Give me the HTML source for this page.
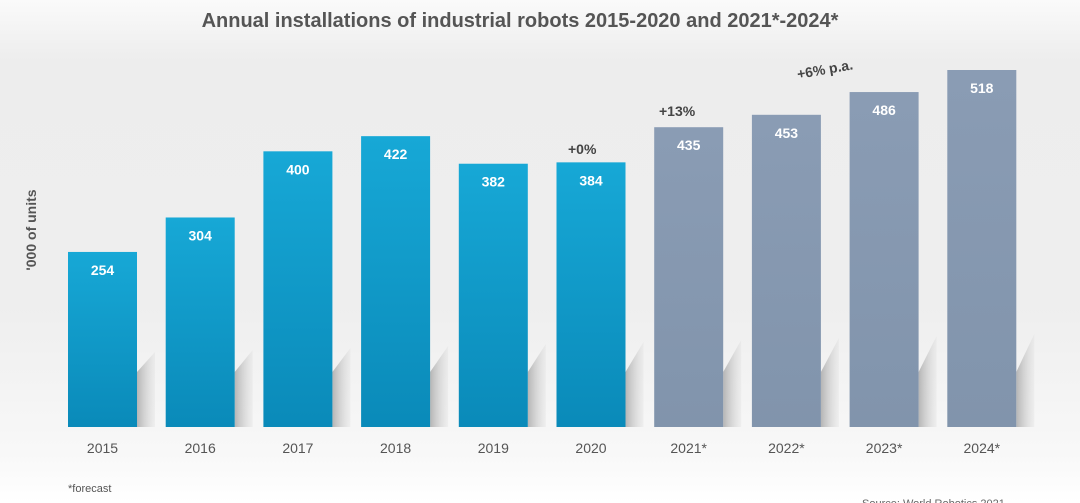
<!DOCTYPE html>
<html><head><meta charset="utf-8"><style>
html,body{margin:0;padding:0;width:1080px;height:503px;overflow:hidden;background:#fff}
svg{display:block;font-family:"Liberation Sans",Arial,sans-serif}
</style></head><body>
<svg id="chart" width="1080" height="503" viewBox="0 0 1080 503">
<defs>
<linearGradient id="bg" x1="0" y1="0" x2="0" y2="1">
<stop offset="0" stop-color="#fafafa"/><stop offset="0.12" stop-color="#ededed"/><stop offset="0.6" stop-color="#eeeeee"/><stop offset="0.9" stop-color="#f8f8f8"/><stop offset="1" stop-color="#ffffff"/>
</linearGradient>
<linearGradient id="blue" x1="0" y1="0" x2="0" y2="1"><stop offset="0" stop-color="#17a8d6"/><stop offset="1" stop-color="#0a8ab9"/></linearGradient>
<linearGradient id="grey" x1="0" y1="0" x2="0" y2="1"><stop offset="0" stop-color="#8a9cb4"/><stop offset="1" stop-color="#8194ac"/></linearGradient>
<linearGradient id="sh" x1="0" y1="0" x2="1" y2="0"><stop offset="0" stop-color="#b5b5b5"/><stop offset="1" stop-color="#dcdcdc" stop-opacity="0.3"/></linearGradient>
</defs>
<rect width="1080" height="503" fill="url(#bg)"/>
<text x="520" y="27" text-anchor="middle" font-size="20" font-weight="bold" fill="#555">Annual installations of industrial robots 2015-2020 and 2021*-2024*</text>
<text transform="translate(36,230) rotate(-90)" text-anchor="middle" font-size="14" font-weight="bold" fill="#555">'000 of units</text>
<g id="shadows"></g>
<g id="bars"></g>
<text x="568" y="154" font-size="14" font-weight="bold" fill="#444">+0%</text>
<text x="659" y="116" font-size="14" font-weight="bold" fill="#444">+13%</text>
<text transform="translate(798,79) rotate(-10)" font-size="14" font-weight="bold" fill="#444">+6% p.a.</text>
<text x="68" y="492" font-size="11" fill="#555">*forecast</text>
<text x="862" y="507" font-size="11" fill="#666">Source: World Robotics 2021</text>
</svg>
<script>
const categories=["2015","2016","2017","2018","2019","2020","2021*","2022*","2023*","2024*"];
const values=[254,304,400,422,382,384,435,453,486,518];
const forecast=[false,false,false,false,false,false,true,true,true,true];
const NS="http://www.w3.org/2000/svg";
const base=427, k=357/518;
function xPos(i){return 68+i*97.7;}
function yPos(v){return base-v*k;}
const bw=69;
const bars=document.getElementById('bars'),sh=document.getElementById('shadows');
categories.forEach((c,i)=>{
  const x=xPos(i),y=yPos(values[i]);
  const s=document.createElementNS(NS,'polygon');
  s.setAttribute('points',`${x+bw},${base} ${x+bw},${base-55} ${x+bw+18},${base-75-i*2} ${x+bw+18},${base}`);
  s.setAttribute('fill','url(#sh)');
  
  
  sh.appendChild(s);
  const r=document.createElementNS(NS,'rect');
  r.setAttribute('x',x);r.setAttribute('y',y);r.setAttribute('width',bw);r.setAttribute('height',base-y);
  r.setAttribute('fill',forecast[i]?'url(#grey)':'url(#blue)');
  
  
  bars.appendChild(r);
  const t=document.createElementNS(NS,'text');
  t.setAttribute('x',x+bw/2);t.setAttribute('y',y+23);t.setAttribute('text-anchor','middle');
  t.setAttribute('font-size','14');t.setAttribute('font-weight','bold');t.setAttribute('fill','#fff');
  t.textContent=values[i];
  
  
  bars.appendChild(t);
  const l=document.createElementNS(NS,'text');
  l.setAttribute('x',x+bw/2);l.setAttribute('y',453);l.setAttribute('text-anchor','middle');
  l.setAttribute('font-size','14');l.setAttribute('fill','#555');
  l.textContent=c;
  
  
  bars.appendChild(l);
});
</script>
</body></html>
